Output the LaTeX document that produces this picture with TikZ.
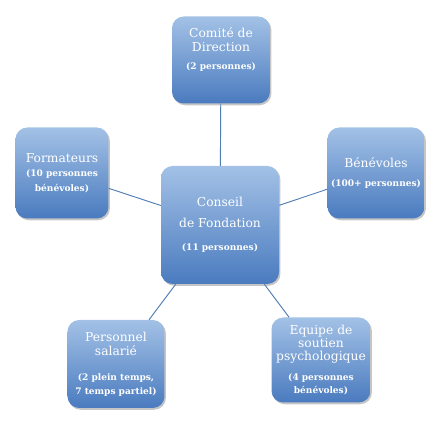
\documentclass[tikz,border=0pt]{standalone}
\usepackage{fontspec}
\setmainfont{DejaVu Serif}
\usepackage{tikz}
\usepackage{xcolor}
\usetikzlibrary{shadows}
\definecolor{BoxTop}{HTML}{A3C1E6}
\definecolor{BoxBottom}{HTML}{4A7BBF}
\definecolor{Link}{HTML}{4F7DB5}
\newcommand{\sm}[1]{{\fontsize{7.7}{10}\selectfont\bfseries #1}}

\begin{document}
\begin{tikzpicture}[
  box/.style={rounded corners=10pt,top color=BoxTop,bottom color=BoxBottom,draw=none,text=white,align=center,inner sep=0pt,
    drop shadow={shadow xshift=1.2pt,shadow yshift=-1.5pt,fill=black!45,opacity=0.5},font=\fontsize{10.5}{12}\selectfont},
  link/.style={draw=Link,line width=0.8pt}
]
\useasboundingbox (0,0) rectangle (13.35,-13.08);
\node[box,minimum width=2.94cm,minimum height=2.61cm] (comite) at (6.63,-1.80) {Comité de\\Direction\\[3pt]\sm{(2 personnes)}\\[8pt]~};
\node[box,minimum width=2.79cm,minimum height=2.73cm] (formateurs) at (1.86,-5.19) {Formateurs\\\sm{(10 personnes}\\[1pt]\sm{bénévoles)}};
\node[box,minimum width=2.91cm,minimum height=2.73cm] (benevoles) at (11.28,-5.19) {Bénévoles\\[4pt]\sm{(100+ personnes)}};
\node[box,minimum width=3.54cm,minimum height=3.54cm,font=\fontsize{10.5}{18}\selectfont] (conseil) at (6.6,-6.75) {Conseil\\de Fondation\\[2pt]\sm{(11 personnes)}};
\node[box,minimum width=2.91cm,minimum height=2.64cm] (personnel) at (3.48,-10.92) {Personnel\\salarié\\[9pt]\sm{(2 plein temps,}\\\sm{7 temps partiel)}};
\node[box,minimum width=2.97cm,minimum height=2.55cm,font=\fontsize{10.5}{11}\selectfont] (equipe) at (9.63,-10.8) {Equipe de\\soutien\\psychologique\\[6pt]\sm{(4 personnes}\\\sm{bénévoles)}};
\draw[link] (conseil) -- (comite);
\draw[link] (conseil) -- (formateurs);
\draw[link] (conseil) -- (benevoles);
\draw[link] (conseil) -- (personnel);
\draw[link] (conseil) -- (equipe);
\end{tikzpicture}
\end{document}
